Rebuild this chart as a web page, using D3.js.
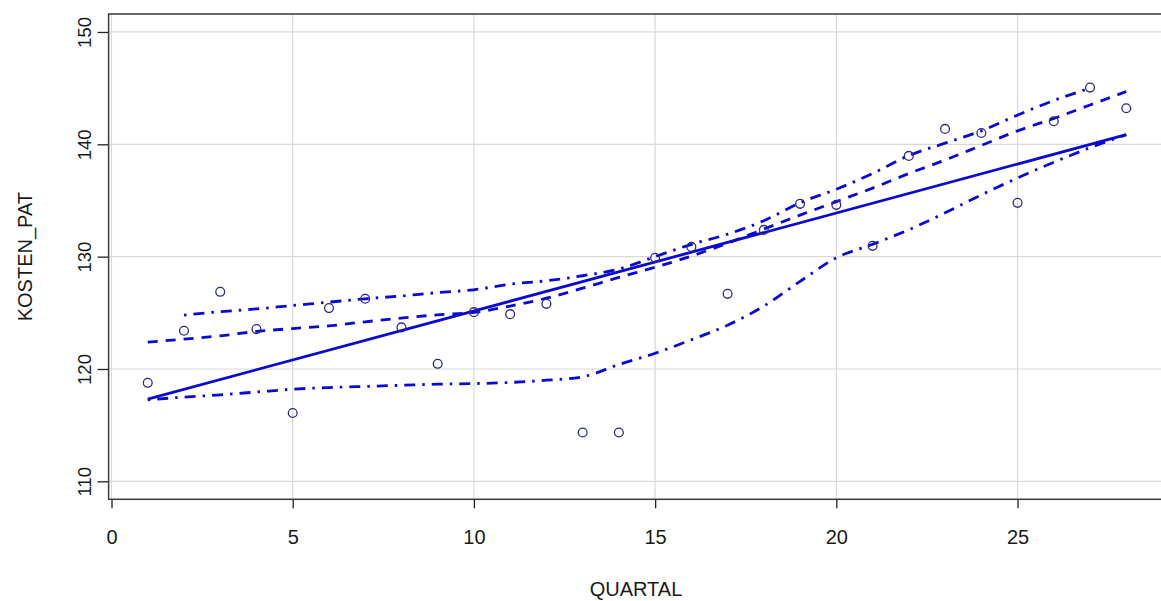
<!DOCTYPE html>
<html>
<head>
<meta charset="utf-8">
<script src="https://cdn.jsdelivr.net/npm/d3@7"></script>
<style>
  html, body { margin: 0; padding: 0; background: #ffffff; }
  svg { display: block; font-family: "Liberation Sans", Arial, sans-serif; }
</style>
</head>
<body>
<svg id="chart" width="1161" height="601"></svg>
<script>
// ---- data ----
const quartal = [1,2,3,4,5,6,7,8,9,10,11,12,13,14,15,16,17,18,19,20,21,22,23,24,25,26,27,28];
const kostenPat = [118.77,123.4,126.87,123.55,116.08,125.42,126.25,123.7,120.46,125.06,124.88,125.8,114.35,114.35,129.9,130.87,126.69,132.38,134.7,134.61,130.96,138.97,141.37,141.01,134.79,142.05,145.05,143.21];

// linear fit (solid line) end points
const fitX = [1, 28];
const fitY = [117.32, 140.86];

// smoother (dashed)
const smoothX = [1,2,3,4,5,6,7,8,9,10,11,12,13,14,15,16,17,18,19,20,21,22,23,24,25,26,27,28];
const smoothY = [122.39,122.66,122.95,123.34,123.6,123.84,124.2,124.53,124.82,125.03,125.6,126.3,127.2,128.15,129.05,130.05,131.2,132.45,133.7,134.9,136.1,137.4,138.6,139.9,141.2,142.3,143.5,144.7];

// upper spread (dot-dash)
const upperX = [2,3,4,5,6,7,8,9,10,11,12,13,14,15,16,17,18,19,20,21,22,23,24,25,26,27];
const upperY = [124.8,125.1,125.35,125.65,125.95,126.25,126.5,126.8,127.05,127.55,127.85,128.3,128.9,130.0,131.1,132.0,133.2,134.8,136.0,137.4,139.0,140.1,141.2,142.6,143.9,145.0];

// lower spread (dot-dash)
const lowerX = [1,2,3,4,5,6,7,8,9,10,11,12,13,14,15,16,17,18,19,20,21,22,23,24,25,26,27,28];
const lowerY = [117.25,117.5,117.7,117.95,118.2,118.35,118.45,118.55,118.65,118.7,118.8,119.0,119.3,120.4,121.4,122.6,123.9,125.6,127.8,129.9,131.1,132.4,133.9,135.5,137.0,138.4,139.7,140.85];

const xTicks = [0,5,10,15,20,25];
const yTicks = [110,120,130,140,150];
const xTitle = "QUARTAL";
const yTitle = "KOSTEN_PAT";

// ---- drawing ----
const svg = d3.select("#chart");
const x = d3.scaleLinear().domain([-0.08, 29.08]).range([108.6, 1165.4]);
const y = d3.scaleLinear().domain([108.4, 151.6]).range([499.3, 14]);

const lineCol = "#0a0ad2";
const ptCol = "#2b2b86";

// grid
svg.append("g").selectAll("line").data(xTicks).join("line")
  .attr("x1", d => x(d)).attr("x2", d => x(d))
  .attr("y1", y.range()[1]).attr("y2", y.range()[0])
  .attr("stroke", "#d9d9d9").attr("stroke-width", 1.2);
svg.append("g").selectAll("line").data(yTicks).join("line")
  .attr("x1", x.range()[0]).attr("x2", x.range()[1])
  .attr("y1", d => y(d)).attr("y2", d => y(d))
  .attr("stroke", "#d9d9d9").attr("stroke-width", 1.2);

// axes
const xAxis = d3.axisBottom(x).tickValues(xTicks).tickSize(9).tickPadding(22).tickFormat(d3.format("d"));
const gx = svg.append("g").attr("transform", `translate(0,${y.range()[0]})`).call(xAxis);
gx.select(".domain").remove();
gx.selectAll(".tick line").attr("stroke", "#222").attr("stroke-width", 1.3);
gx.selectAll(".tick text").attr("font-size", 20).attr("fill", "#1a1a1a")
  .attr("font-family", "Liberation Sans, Arial, sans-serif");

const yAxis = d3.axisLeft(y).tickValues(yTicks).tickSize(11).tickPadding(0).tickFormat(d3.format("d"));
const gy = svg.append("g").attr("transform", `translate(${x.range()[0]},0)`).call(yAxis);
gy.select(".domain").remove();
gy.selectAll(".tick line").attr("stroke", "#222").attr("stroke-width", 1.3);
gy.selectAll(".tick text")
  .attr("font-size", 18.5).attr("fill", "#1a1a1a")
  .attr("font-family", "Liberation Sans, Arial, sans-serif")
  .attr("text-anchor", "middle")
  .attr("dy", null)
  .attr("x", null)
  .attr("transform", "translate(-18,0) rotate(-90)");

// box
svg.append("rect")
  .attr("x", x.range()[0]).attr("y", y.range()[1])
  .attr("width", x.range()[1] - x.range()[0])
  .attr("height", y.range()[0] - y.range()[1])
  .attr("fill", "none").attr("stroke", "#3a3a3a").attr("stroke-width", 1.5);

// titles
svg.append("text").attr("x", 636).attr("y", 596)
  .attr("text-anchor", "middle").attr("font-size", 20).attr("fill", "#1a1a1a")
  .text(xTitle);
svg.append("text")
  .attr("transform", `translate(32,${(y.range()[0] + y.range()[1]) / 2}) rotate(-90)`)
  .attr("text-anchor", "middle").attr("font-size", 20).attr("fill", "#1a1a1a")
  .text(yTitle);

// lines
const mk = (xs, ys) => xs.map((v, i) => [v, ys[i]]);
const line = d3.line().x(d => x(d[0])).y(d => y(d[1])).curve(d3.curveMonotoneX);

const plotArea = svg.append("g");
plotArea.append("path").datum(mk(fitX, fitY)).attr("d", line)
  .attr("fill", "none").attr("stroke", lineCol).attr("stroke-width", 2.8);
plotArea.append("path").datum(mk(smoothX, smoothY)).attr("d", line)
  .attr("fill", "none").attr("stroke", lineCol).attr("stroke-width", 2.8)
  .attr("stroke-dasharray", "10,8");
plotArea.append("path").datum(mk(upperX, upperY)).attr("d", line)
  .attr("fill", "none").attr("stroke", lineCol).attr("stroke-width", 2.8)
  .attr("stroke-dasharray", "2.5,7,11,7");
plotArea.append("path").datum(mk(lowerX, lowerY)).attr("d", line)
  .attr("fill", "none").attr("stroke", lineCol).attr("stroke-width", 2.8)
  .attr("stroke-dasharray", "2.5,7,11,7");

// points
plotArea.append("g").selectAll("circle").data(mk(quartal, kostenPat)).join("circle")
  .attr("cx", d => x(d[0])).attr("cy", d => y(d[1])).attr("r", 4.4)
  .attr("fill", "none").attr("stroke", ptCol).attr("stroke-width", 1.3);
</script>
</body>
</html>
